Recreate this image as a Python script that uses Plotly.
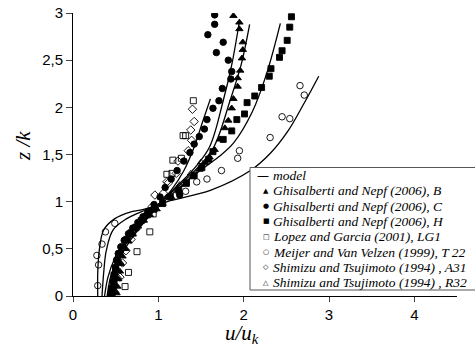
import plotly.graph_objects as go

# model curves (u/uk, z/k)
m_t22_x = [0.29, 0.29, 0.31, 0.36, 0.49, 0.67, 0.79, 1.00, 1.14, 1.61, 2.08, 2.31, 2.52, 2.70, 2.88]
m_t22_y = [0.00, 0.25, 0.50, 0.70, 0.82, 0.89, 0.91, 0.96, 1.01, 1.12, 1.33, 1.51, 1.75, 2.03, 2.33]

m_a_x = [0.34, 0.36, 0.39, 0.47, 0.63, 0.79, 1.00, 1.15, 1.30, 1.42, 1.52, 1.61]
m_a_y = [0.00, 0.25, 0.48, 0.70, 0.82, 0.89, 0.97, 1.12, 1.33, 1.58, 1.85, 2.09]

m_b_x = [0.37, 0.41, 0.49, 0.63, 0.82, 1.00, 1.20, 1.40, 1.60, 1.76, 1.86, 1.95]
m_b_y = [0.00, 0.20, 0.40, 0.60, 0.80, 0.97, 1.15, 1.33, 1.58, 2.07, 2.45, 2.91]

m_c_x = [0.40, 0.44, 0.52, 0.66, 0.84, 1.00, 1.22, 1.45, 1.65, 1.84, 1.97, 2.07]
m_c_y = [0.00, 0.20, 0.40, 0.60, 0.80, 0.97, 1.15, 1.35, 1.58, 2.07, 2.45, 2.88]

m_h_x = [0.43, 0.47, 0.55, 0.68, 0.85, 1.03, 1.25, 1.49, 1.70, 1.88, 2.10, 2.27, 2.43]
m_h_y = [0.00, 0.20, 0.40, 0.60, 0.80, 0.97, 1.15, 1.33, 1.47, 1.62, 1.95, 2.36, 2.89]

# Ghisalberti and Nepf (2006), B
b_x = [1.88, 1.95, 1.95, 1.99, 1.99, 1.98, 1.96, 1.93, 1.93, 1.88, 1.86, 1.82, 1.78, 1.72, 1.66,
       1.60, 1.55, 1.48, 1.40, 1.32, 1.24, 1.15, 1.05, 0.98, 0.90, 0.83, 0.76, 0.70, 0.65, 0.61,
       0.58, 0.56, 0.55, 0.53, 0.52, 0.51]
b_y = [2.97, 2.90, 2.83, 2.69, 2.61, 2.52, 2.39, 2.31, 2.22, 2.09, 1.99, 1.86, 1.78, 1.66, 1.55,
       1.47, 1.41, 1.34, 1.26, 1.18, 1.12, 1.05, 0.98, 0.92, 0.86, 0.80, 0.74, 0.66, 0.58, 0.50,
       0.42, 0.34, 0.26, 0.18, 0.10, 0.03]

# Ghisalberti and Nepf (2006), C
c_x = [1.66, 1.66, 1.58, 1.76, 1.68, 1.82, 1.86, 1.85, 1.75, 1.71, 1.64, 1.57, 1.54, 1.48, 1.42,
       1.37, 1.30, 1.25, 1.22, 1.15, 1.08, 1.02, 0.95, 0.88, 0.82, 0.76, 0.70, 0.65, 0.60, 0.56,
       0.53, 0.51, 0.50, 0.49, 0.48, 0.47, 0.46]
c_y = [2.98, 2.88, 2.77, 2.69, 2.58, 2.50, 2.38, 2.30, 2.20, 2.07, 1.99, 1.87, 1.77, 1.69, 1.61,
       1.52, 1.43, 1.07, 1.33, 1.24, 1.15, 1.05, 0.97, 0.90, 0.84, 0.78, 0.72, 0.66, 0.59, 0.52,
       0.45, 0.38, 0.30, 0.23, 0.15, 0.08, 0.02]

# Ghisalberti and Nepf (2006), H
h_x = [2.56, 2.54, 2.51, 2.45, 2.42, 2.32, 2.30, 2.21, 2.13, 2.04, 2.01, 1.92, 1.86, 1.76, 1.64,
       1.59, 1.51, 1.42, 1.33, 1.24, 1.14, 1.05, 0.95, 0.87, 0.80, 0.74, 0.68, 0.63, 0.58, 0.55,
       0.52, 0.50, 0.48, 0.47, 0.45, 0.44]
h_y = [2.96, 2.85, 2.71, 2.60, 2.53, 2.41, 2.33, 2.21, 2.12, 2.05, 1.93, 1.87, 1.75, 1.66, 1.53,
       1.45, 1.36, 1.28, 1.20, 1.12, 1.05, 0.98, 0.92, 0.86, 0.80, 0.73, 0.67, 0.60, 0.52, 0.45,
       0.38, 0.30, 0.22, 0.15, 0.08, 0.01]

# Lopez and Garcia (2001), LG1
lg_x = [0.61, 0.65, 0.75, 0.90, 0.94, 1.10, 1.16, 1.17, 1.27, 1.29, 1.32, 1.41]
lg_y = [0.10, 0.25, 0.47, 0.68, 0.87, 1.29, 1.30, 1.44, 1.46, 1.70, 1.70, 2.07]

# Meijer and Van Velzen (1999), T 22
t22_x = [0.29, 0.30, 0.28, 0.34, 0.38, 0.49, 1.32, 1.45, 1.57, 1.74, 1.93, 1.95, 2.31, 2.45, 2.54, 2.66, 2.71]
t22_y = [0.11, 0.33, 0.43, 0.55, 0.68, 0.77, 1.11, 1.21, 1.24, 1.33, 1.46, 1.54, 1.68, 1.90, 1.88, 2.23, 2.13]

# Shimizu and Tsujimoto (1994), A31
a31_x = [0.55, 0.58, 0.62, 0.68, 0.75, 0.85, 0.93, 0.96, 1.06, 1.10, 1.12, 1.21, 1.23, 1.35, 1.39, 1.38, 1.42, 1.40]
a31_y = [0.20, 0.35, 0.48, 0.60, 0.72, 0.85, 0.95, 1.07, 1.09, 1.21, 1.20, 1.30, 1.43, 1.54, 1.65, 1.76, 1.85, 1.98]

# Shimizu and Tsujimoto (1994), R32
r32_x = [0.50, 0.53, 0.56, 0.62, 0.70, 0.82, 0.95, 1.10, 1.25, 1.38, 1.50]
r32_y = [0.05, 0.20, 0.35, 0.50, 0.65, 0.80, 0.93, 1.05, 1.18, 1.30, 1.42]

legend_names = ['model',
                'Ghisalberti and Nepf (2006), B',
                'Ghisalberti and Nepf (2006), C',
                'Ghisalberti and Nepf (2006), H',
                'Lopez and Garcia (2001), LG1',
                'Meijer and Van Velzen (1999), T 22',
                'Shimizu and Tsujimoto (1994) , A31',
                'Shimizu and Tsujimoto (1994) , R32']
legend_glyphs = ['\u2014', '\u25B2', '\u25CF', '\u25A0', '\u25A1', '\u25CB', '\u25C7', '\u25B3']

W, H = 475, 355
L, R, T, B = 73, 18, 13, 59


def px(x):
    return (x - L) / (W - L - R)


def py(y):
    return (H - B - y) / (H - T - B)


fig = go.Figure()

models = [(m_t22_x, m_t22_y), (m_a_x, m_a_y), (m_b_x, m_b_y), (m_c_x, m_c_y), (m_h_x, m_h_y)]
for mx, my in models:
    fig.add_trace(go.Scatter(x=mx, y=my, mode='lines', name='model',
                             line=dict(color='black', width=1.3, shape='spline')))

series = [
    (b_x, b_y, 'triangle-up', 6.5),
    (c_x, c_y, 'circle', 6.5),
    (h_x, h_y, 'square', 6),
    (lg_x, lg_y, 'square-open', 6),
    (t22_x, t22_y, 'circle-open', 6.5),
    (a31_x, a31_y, 'diamond-open', 6.5),
    (r32_x, r32_y, 'triangle-up-open', 6),
]
for (sx, sy, sym, sz), name in zip(series, legend_names[1:]):
    fig.add_trace(go.Scatter(x=sx, y=sy, mode='markers', name=name,
                             marker=dict(symbol=sym, size=sz, color='black',
                                         line=dict(color='black', width=0.9))))

# hand-made legend box
fig.add_shape(type='rect', xref='paper', yref='paper', x0=px(250), x1=px(520), y0=py(290), y1=py(167.5),
              fillcolor='white', line=dict(color='#555', width=1), layer='above')
for i, (g, n) in enumerate(zip(legend_glyphs, legend_names)):
    yc = 175.5 + 15.3 * i
    if i == 0:
        fig.add_annotation(xref='paper', yref='paper', x=px(255), y=py(yc), xanchor='left', yanchor='middle',
                           text=g, showarrow=False, font=dict(family='DejaVu Sans', size=12, color='black'))
    else:
        fig.add_annotation(xref='paper', yref='paper', x=px(266), y=py(yc), xanchor='center', yanchor='middle',
                           text=g, showarrow=False, font=dict(family='DejaVu Sans', size=7, color='black'))
    fig.add_annotation(xref='paper', yref='paper', x=px(271), y=py(yc), xanchor='left', yanchor='middle',
                       text='<i>%s</i>' % n, showarrow=False,
                       font=dict(family='Liberation Serif', size=13.5, color='black'))

# axis titles
fig.add_annotation(xref='paper', yref='paper', x=px(242), y=py(334), xanchor='center', yanchor='middle',
                   text='<i>u/u<sub>k</sub></i>', showarrow=False,
                   font=dict(family='Liberation Serif', size=21, color='black'))
fig.add_annotation(xref='paper', yref='paper', x=px(23), y=py(146), xanchor='center', yanchor='middle',
                   text='<i>z /k</i>', textangle=-90, showarrow=False,
                   font=dict(family='Liberation Serif', size=21, color='black'))

fig.update_layout(
    width=W, height=H,
    margin=dict(l=L, r=R, t=T, b=B, autoexpand=False),
    paper_bgcolor='white', plot_bgcolor='white',
    separators=',.',
    showlegend=False,
    hovermode=False,
    font=dict(family='Liberation Sans', color='black'),
)
fig.update_xaxes(range=[0, 4.5], tickvals=[0, 1, 2, 3, 4], ticks='outside', ticklen=5,
                 showline=True, linecolor='black', linewidth=1, showgrid=False, zeroline=False,
                 tickfont=dict(size=15))
fig.update_yaxes(range=[0, 3], tickvals=[0, 0.5, 1, 1.5, 2, 2.5, 3], ticks='outside', ticklen=6,
                 showline=True, linecolor='black', linewidth=1, showgrid=False, zeroline=False,
                 tickfont=dict(size=15))

# drop the browser's default 8px page margin so the figure sits at the window corner
fig.write_html("out.html", config={'displayModeBar': False},
               post_script="document.body.style.margin='0';")
